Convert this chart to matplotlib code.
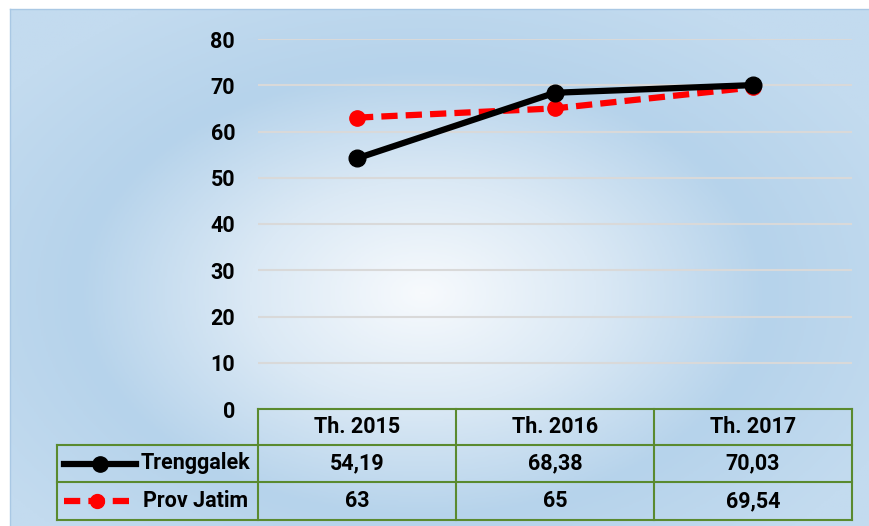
import numpy as np
import matplotlib.pyplot as plt
from matplotlib.lines import Line2D
from matplotlib.colors import LinearSegmentedColormap

plt.rcParams['font.family'] = ['Roboto', 'DejaVu Sans']
plt.rcParams['font.weight'] = 'bold'

years = ['Th. 2015', 'Th. 2016', 'Th. 2017']
trenggalek = [54.19, 68.38, 70.03]
jatim = [63, 65, 69.54]
trenggalek_lbl = ['54,19', '68,38', '70,03']
jatim_lbl = ['63', '65', '69,54']

W, H = 870, 526
fig = plt.figure(figsize=(W / 100, H / 100), dpi=100)
fig.patch.set_facecolor('white')

def fx(px):
    return px / W

def fy(py):
    return 1 - py / H

# gradient background
bg = fig.add_axes([fx(10), 0, 1 - fx(10), fy(9)])
yy, xx = np.mgrid[0:1:300j, 0:1:500j]
d = np.sqrt(((xx - 0.48) / 0.6) ** 2 + ((yy - 0.55) / 0.65) ** 2)
d = np.clip(d, 0, 1)
cmap = LinearSegmentedColormap.from_list('bg', ['#f7fafd', '#dbe9f5', '#b6d3eb', '#c3dbef'])
bg.imshow(d, cmap=cmap, aspect='auto', extent=[0, 1, 0, 1], origin='upper')
bg.set_axis_off()
fig.add_artist(Line2D([fx(10), fx(10)], [0, fy(9)], color='#a9c8e4', lw=1))
fig.add_artist(Line2D([fx(10), 1], [fy(9), fy(9)], color='#a9c8e4', lw=1))

fs = 15.5

# main plot
ax = fig.add_axes([fx(258), fy(409), fx(852) - fx(258), fy(39) - fy(409)])
ax.patch.set_alpha(0)
x = np.arange(len(years))
ax.set_xlim(-0.5, 2.5)
ax.set_ylim(0, 80)
ax.set_yticks(range(0, 81, 10))
ax.yaxis.grid(True, color='#d9d9d9', lw=1.5)
ax.set_axisbelow(True)
for s in ax.spines.values():
    s.set_visible(False)
ax.tick_params(axis='y', length=0, pad=16.5, labelsize=fs)
ax.tick_params(axis='x', length=0, labelbottom=False)

ax.plot(x, jatim, color='#ff0000', lw=4.5, ls=(0, (2.6, 1.3)), marker='o', ms=11,
        zorder=3, clip_on=False)
ax.plot(x, trenggalek, color='black', lw=4.5, marker='o', ms=12, zorder=4, clip_on=False)

# data table
green = '#5a8a2f'
cols = [258, 456, 654, 852]
rows = [409, 445, 482, 520]
for c in cols:
    fig.add_artist(Line2D([fx(c), fx(c)], [fy(rows[0]), fy(rows[-1])], color=green, lw=1.5))
fig.add_artist(Line2D([fx(57), fx(57)], [fy(rows[1]), fy(rows[-1])], color=green, lw=1.5))
fig.add_artist(Line2D([fx(cols[0]), fx(cols[-1])], [fy(rows[0]), fy(rows[0])], color=green, lw=1.5))
for r in rows[1:]:
    fig.add_artist(Line2D([fx(57), fx(cols[-1])], [fy(r), fy(r)], color=green, lw=1.5))

for i in range(3):
    cx = (cols[i] + cols[i + 1]) / 2
    fig.text(fx(cx), fy((rows[0] + rows[1]) / 2), years[i], ha='center', va='center', fontsize=fs)
    fig.text(fx(cx), fy((rows[1] + rows[2]) / 2), trenggalek_lbl[i], ha='center', va='center', fontsize=fs)
    fig.text(fx(cx), fy((rows[2] + rows[3]) / 2), jatim_lbl[i], ha='center', va='center', fontsize=fs)

y1 = fy((rows[1] + rows[2]) / 2)
y2 = fy((rows[2] + rows[3]) / 2)
fig.add_artist(Line2D([fx(64), fx(136)], [y1, y1], color='black', lw=4.5))
fig.add_artist(Line2D([fx(100)], [y1], color='black', marker='o', ms=11))
fig.add_artist(Line2D([fx(64), fx(129)], [y2, y2], color='#ff0000', lw=4.5, ls=(0, (2.6, 1.3))))
fig.add_artist(Line2D([fx(97)], [y2], color='#ff0000', marker='o', ms=10))
fig.text(fx(141), y1, 'Trenggalek', ha='left', va='center', fontsize=fs)
fig.text(fx(143), y2, 'Prov Jatim', ha='left', va='center', fontsize=fs)

fig.savefig('out.png', dpi=100)
